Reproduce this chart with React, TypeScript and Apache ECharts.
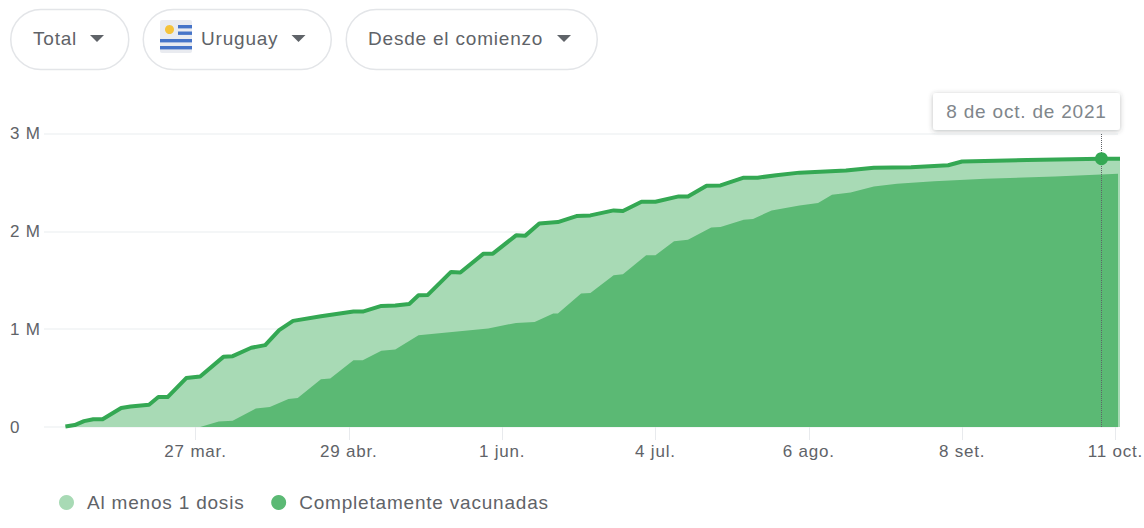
import React, { useEffect, useRef } from "react";
import * as echarts from "echarts";

// days counted from 27 March 2021
const totalDays = [-28,-26,-24,-22,-20,-16,-14,-10,-8,-6,-2,1,6,8,12,15,18,21,27,34,36,40,43,46,48,50,55,57,62,64,69,71,74,78,82,85,90,92,96,99,104,106,110,113,118,121,125,130,140,146,154,162,165,179,195,199];
const totalValues = [0.005,0.02,0.06,0.08,0.08,0.195,0.21,0.228,0.306,0.306,0.5,0.517,0.717,0.724,0.81,0.837,0.99,1.085,1.133,1.18,1.18,1.238,1.242,1.258,1.347,1.35,1.585,1.579,1.772,1.772,1.959,1.956,2.079,2.095,2.156,2.163,2.214,2.207,2.303,2.303,2.357,2.357,2.466,2.469,2.548,2.548,2.574,2.6,2.622,2.65,2.656,2.676,2.714,2.73,2.742,2.742];
const fullDays = [1,5,8,13,16,20,22,27,29,34,36,40,43,48,53,63,69,73,77,78,83,85,90,92,97,99,103,106,111,113,118,120,124,130,134,137,141,146,151,159,170,185,199];
const fullValues = [0,0.056,0.064,0.189,0.204,0.286,0.296,0.487,0.495,0.682,0.682,0.779,0.791,0.939,0.962,1.007,1.064,1.074,1.16,1.16,1.364,1.37,1.551,1.561,1.755,1.755,1.898,1.915,2.038,2.044,2.119,2.126,2.214,2.265,2.289,2.375,2.398,2.459,2.487,2.513,2.538,2.561,2.589];
const tickDays = [0,33,66,99,132,165,198];
const tickLabels = ["27 mar.","29 abr.","1 jun.","4 jul.","6 ago.","8 set.","11 oct."];
const yLabels = ["0","1 M","2 M","3 M"];
const seriesNames = ["Al menos 1 dosis","Completamente vacunadas"];
const selectedDay = 195;
const selectedValue = 2.742;
const selectedLabel = "8 de oct. de 2021";

const FONT = "'Liberation Sans'";
const GREY = "#5f6368";

const pill = (x: number, w: number) => ({
  type: "rect", shape: { x, y: 9.5, width: w, height: 60, r: 30 },
  style: { fill: "#fff", stroke: "#e3e5e8", lineWidth: 1.5 },
});
const caret = (x: number) => ({
  type: "polygon", shape: { points: [[x, 35], [x + 14, 35], [x + 7, 42]] },
  style: { fill: GREY },
});
const label = (text: string, x: number) => ({
  type: "text", x, y: 38,
  style: { text, fill: GREY, font: `19px ${FONT}`, textVerticalAlign: "middle", verticalAlign: "middle" },
});
const flagStripe = (x: number, y: number, w: number) => ({
  type: "rect", shape: { x, y, width: w, height: 3.4 }, style: { fill: "#4674c8" },
});

export default function App() {
  const ref = useRef<HTMLDivElement>(null);
  useEffect(() => {
    const chart = echarts.init(ref.current!, undefined, { renderer: "svg" });
    chart.setOption({
      animation: false,
      backgroundColor: "#fff",
      grid: { left: 44, top: 133.5, width: 1074, height: 293.5 },
      xAxis: {
        type: "value", min: -32.61, max: 198.56,
        splitLine: { show: false },
        axisLine: { show: false },
        axisTick: { show: true, length: 13, customValues: tickDays, lineStyle: { color: "#e8eaed", width: 1 } },
        axisLabel: {
          customValues: tickDays, margin: 16, color: GREY, fontFamily: FONT, fontSize: 17,
          hideOverlap: false, showMinLabel: true, showMaxLabel: true,
          formatter: (v: number) => tickLabels[tickDays.indexOf(v)] ?? "",
        },
      },
      yAxis: {
        type: "value", min: 0, max: 3, interval: 1,
        axisLine: { show: false }, axisTick: { show: false },
        splitLine: { lineStyle: { color: "#f1f3f4", width: 1.5 } },
        axisLabel: {
          align: "left", margin: 34, color: GREY, fontFamily: FONT, fontSize: 17,
          formatter: (v: number) => yLabels[v],
        },
      },
      legend: {
        left: 54, top: 488, itemWidth: 15, itemHeight: 15, itemGap: 39.5, icon: "circle",
        itemStyle: { borderWidth: 0 },
        textStyle: { color: GREY, fontFamily: FONT, fontSize: 19, padding: [0, 0, 0, 8] },
        data: seriesNames,
        selectedMode: false,
      },
      series: [
        {
          name: seriesNames[0], type: "line", showSymbol: false, symbol: "none", z: 2,
          data: totalDays.map((d, i) => [d, totalValues[i]]),
          itemStyle: { color: "#a8dab5" },
          lineStyle: { color: "#34a853", width: 4, join: "round" },
          areaStyle: { color: "#a8dab5", opacity: 1 },
          markLine: {
            silent: true, symbol: "none", label: { show: false },
            lineStyle: { color: "#5f6368", type: "dotted", width: 1 },
            data: [{ xAxis: selectedDay }],
          },
          markPoint: {
            silent: true, symbol: "circle", symbolSize: 13,
            itemStyle: { color: "#34a853" }, label: { show: false },
            data: [{ coord: [selectedDay, selectedValue] }],
          },
        },
        {
          name: seriesNames[1], type: "line", showSymbol: false, symbol: "none", z: 3,
          data: fullDays.map((d, i) => [d, fullValues[i]]),
          itemStyle: { color: "#5bb974" },
          lineStyle: { width: 0 },
          areaStyle: { color: "#5bb974", opacity: 1 },
        },
      ],
      graphic: [
        pill(10.75, 118), pill(143.25, 188), pill(346.25, 251),
        label("Total", 33), caret(90),
        label("Uruguay", 201), caret(291.5),
        label("Desde el comienzo", 368), caret(557),
        { type: "rect", shape: { x: 160, y: 20, width: 32, height: 33, r: 2 }, style: { fill: "#e9ebf0" } },
        { type: "circle", shape: { cx: 169.5, cy: 29.5, r: 4.5 }, style: { fill: "#f5c33b" } },
        flagStripe(178, 25, 14), flagStripe(178, 31.5, 14), flagStripe(160, 39, 32), flagStripe(160, 46, 32),
        {
          type: "rect", z: 100, shape: { x: 933, y: 93, width: 187, height: 37, r: 3 },
          style: { fill: "#fff", shadowBlur: 5, shadowColor: "rgba(60,64,67,0.35)", shadowOffsetY: 1 },
        },
        {
          type: "text", z: 101, x: 1026.5, y: 111.5,
          style: { text: selectedLabel, fill: "#80868b", font: `19px ${FONT}`, align: "center", textAlign: "center", verticalAlign: "middle", textVerticalAlign: "middle" },
        },
      ],
    });
    return () => chart.dispose();
  }, []);
  return (
    <>
      <style>{`svg text { letter-spacing: 0.8px; }`}</style>
      <div ref={ref} style={{ position: "absolute", left: 0, top: 0, width: 1144, height: 528 }} />
    </>
  );
}
